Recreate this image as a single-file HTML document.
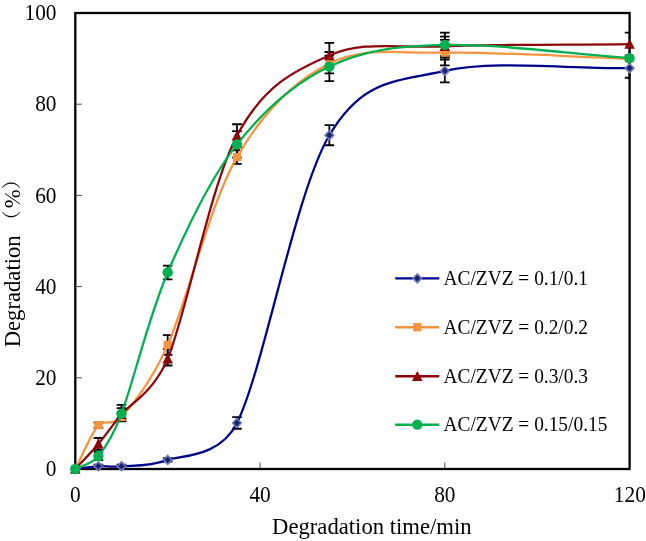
<!DOCTYPE html>
<html><head><meta charset="utf-8"><title>Degradation chart</title>
<style>html,body{margin:0;padding:0;background:#fff}svg{display:block;will-change:transform}</style></head>
<body>
<svg width="646" height="541" viewBox="0 0 646 541">
<defs><clipPath id="plot"><rect x="75.3" y="13.0" width="554.9" height="456.0"/></clipPath></defs>
<rect width="646" height="541" fill="#fff"/>
<g stroke="#4a4a4a" stroke-width="1">
<line x1="76.3" y1="377.8" x2="81.9" y2="377.8"/>
<line x1="76.3" y1="286.6" x2="81.9" y2="286.6"/>
<line x1="76.3" y1="195.4" x2="81.9" y2="195.4"/>
<line x1="76.3" y1="104.2" x2="81.9" y2="104.2"/>
<line x1="260.1" y1="468.0" x2="260.1" y2="462.5"/>
<line x1="444.8" y1="468.0" x2="444.8" y2="462.5"/>
</g>
<rect x="75.3" y="13.0" width="554.3" height="456.0" fill="none" stroke="#000" stroke-width="2.3"/>
<g stroke="#000" stroke-width="1.8" fill="none" clip-path="url(#plot)">
<path d="M98.40,464.67V467.86 M93.60,464.67H103.20 M93.60,467.86H103.20"/>
<path d="M121.49,464.67V467.86 M116.69,464.67H126.29 M116.69,467.86H126.29"/>
<path d="M167.68,458.06V461.70 M162.88,458.06H172.48 M162.88,461.70H172.48"/>
<path d="M236.97,417.15V428.74 M232.17,417.15H241.77 M232.17,428.74H241.77"/>
<path d="M329.35,125.18V145.24 M324.55,125.18H334.15 M324.55,145.24H334.15"/>
<path d="M444.83,59.51V82.31 M440.03,59.51H449.63 M440.03,82.31H449.63"/>
<path d="M629.60,58.60V77.75 M624.80,58.60H634.40 M624.80,77.75H634.40"/>
<path d="M98.40,422.49V427.96 M93.60,422.49H103.20 M93.60,427.96H103.20"/>
<path d="M121.49,412.68V421.35 M116.69,412.68H126.29 M116.69,421.35H126.29"/>
<path d="M167.68,335.16V354.77 M162.88,335.16H172.48 M162.88,354.77H172.48"/>
<path d="M236.97,150.26V163.94 M232.17,150.26H241.77 M232.17,163.94H241.77"/>
<path d="M329.35,55.64V73.42 M324.55,55.64H334.15 M324.55,73.42H334.15"/>
<path d="M444.83,39.90V65.44 M440.03,39.90H449.63 M440.03,65.44H449.63"/>
<path d="M629.60,56.32V60.88 M624.80,56.32H634.40 M624.80,60.88H634.40"/>
<path d="M98.40,437.99V449.85 M93.60,437.99H103.20 M93.60,449.85H103.20"/>
<path d="M121.49,404.93V421.12 M116.69,404.93H126.29 M116.69,421.12H126.29"/>
<path d="M167.68,348.84V365.49 M162.88,348.84H172.48 M162.88,365.49H172.48"/>
<path d="M236.97,124.26V147.06 M232.17,124.26H241.77 M232.17,147.06H241.77"/>
<path d="M329.35,42.87V67.95 M324.55,42.87H334.15 M324.55,67.95H334.15"/>
<path d="M444.83,36.71V55.86 M440.03,36.71H449.63 M440.03,55.86H449.63"/>
<path d="M629.60,32.61V55.41 M624.80,32.61H634.40 M624.80,55.41H634.40"/>
<path d="M98.40,451.90V460.11 M93.60,451.90H103.20 M93.60,460.11H103.20"/>
<path d="M121.49,408.12V419.07 M116.69,408.12H126.29 M116.69,419.07H126.29"/>
<path d="M167.68,265.62V279.30 M162.88,265.62H172.48 M162.88,279.30H172.48"/>
<path d="M236.97,131.10V157.55 M232.17,131.10H241.77 M232.17,157.55H241.77"/>
<path d="M329.35,51.99V81.17 M324.55,51.99H334.15 M324.55,81.17H334.15"/>
<path d="M444.83,32.61V57.23 M440.03,32.61H449.63 M440.03,57.23H449.63"/>
</g>
<path d="M75.30,469.00 C83.00,468.09 90.70,466.72 98.40,466.26 C106.06,465.81 109.99,467.32 121.49,466.26 C133.04,465.20 148.44,467.10 167.68,459.88 C180.18,455.19 219.47,458.09 236.97,422.94 C263.92,368.83 294.71,193.88 329.35,135.21 C362.96,78.30 396.30,81.75 444.83,70.91 C494.87,59.74 568.01,69.09 629.60,68.18" fill="none" stroke="#00008B" stroke-width="2.25" stroke-linecap="round" stroke-linejoin="round"/>
<path d="M75.30,464.60 L79.60,469.00 L75.30,473.40 L71.00,469.00Z" fill="#16256a" stroke="#6f77b8" stroke-width="1.6"/>
<path d="M98.40,461.86 L102.70,466.26 L98.40,470.66 L94.10,466.26Z" fill="#16256a" stroke="#6f77b8" stroke-width="1.6"/>
<path d="M121.49,461.86 L125.79,466.26 L121.49,470.66 L117.19,466.26Z" fill="#16256a" stroke="#6f77b8" stroke-width="1.6"/>
<path d="M167.68,455.48 L171.98,459.88 L167.68,464.28 L163.38,459.88Z" fill="#16256a" stroke="#6f77b8" stroke-width="1.6"/>
<path d="M236.97,418.54 L241.27,422.94 L236.97,427.34 L232.67,422.94Z" fill="#16256a" stroke="#6f77b8" stroke-width="1.6"/>
<path d="M329.35,130.81 L333.65,135.21 L329.35,139.61 L325.05,135.21Z" fill="#16256a" stroke="#6f77b8" stroke-width="1.6"/>
<path d="M444.83,66.51 L449.13,70.91 L444.83,75.31 L440.53,70.91Z" fill="#16256a" stroke="#6f77b8" stroke-width="1.6"/>
<path d="M629.60,63.78 L633.90,68.18 L629.60,72.58 L625.30,68.18Z" fill="#16256a" stroke="#6f77b8" stroke-width="1.6"/>
<path d="M75.30,469.00 C83.00,454.41 90.70,433.89 98.40,425.22 C103.74,419.22 113.48,426.29 121.49,417.02 C131.92,404.94 150.31,384.07 167.68,344.97 C186.93,301.65 210.03,203.99 236.97,157.10 C263.92,110.20 294.71,81.02 329.35,63.62 C364.00,46.21 394.79,53.51 444.83,52.67 C494.87,51.84 568.01,56.62 629.60,58.60" fill="none" stroke="#F7943F" stroke-width="2.25" stroke-linecap="round" stroke-linejoin="round"/>
<rect x="71.15" y="464.85" width="8.30" height="8.30" fill="#F7943F"/>
<rect x="94.25" y="421.07" width="8.30" height="8.30" fill="#F7943F"/>
<rect x="117.34" y="412.87" width="8.30" height="8.30" fill="#F7943F"/>
<rect x="163.53" y="340.82" width="8.30" height="8.30" fill="#F7943F"/>
<rect x="232.82" y="152.95" width="8.30" height="8.30" fill="#F7943F"/>
<rect x="325.20" y="59.47" width="8.30" height="8.30" fill="#F7943F"/>
<rect x="440.68" y="48.52" width="8.30" height="8.30" fill="#F7943F"/>
<rect x="625.45" y="54.45" width="8.30" height="8.30" fill="#F7943F"/>
<path d="M75.30,469.00 C83.00,460.64 90.70,453.04 98.40,443.92 C106.09,434.80 109.94,428.49 121.49,414.28 C129.80,404.06 153.84,392.05 167.68,358.65 C186.93,312.21 210.03,186.20 236.97,135.66 C263.92,85.12 294.71,70.30 329.35,55.41 C364.00,40.51 394.79,48.19 444.83,46.29 C494.87,44.39 568.01,44.77 629.60,44.01" fill="none" stroke="#8C060C" stroke-width="2.25" stroke-linecap="round" stroke-linejoin="round"/>
<path d="M75.30,463.70 L80.60,473.80 L70.00,473.80Z" fill="#8C060C"/>
<path d="M98.40,438.62 L103.70,448.72 L93.10,448.72Z" fill="#8C060C"/>
<path d="M121.49,408.98 L126.79,419.08 L116.19,419.08Z" fill="#8C060C"/>
<path d="M167.68,353.35 L172.98,363.45 L162.38,363.45Z" fill="#8C060C"/>
<path d="M236.97,130.36 L242.27,140.46 L231.67,140.46Z" fill="#8C060C"/>
<path d="M329.35,50.11 L334.65,60.21 L324.05,60.21Z" fill="#8C060C"/>
<path d="M444.83,40.99 L450.13,51.09 L439.53,51.09Z" fill="#8C060C"/>
<path d="M629.60,38.71 L634.90,48.81 L624.30,48.81Z" fill="#8C060C"/>
<path d="M75.30,469.00 C83.00,464.67 90.70,465.24 98.40,456.00 C104.08,449.19 112.96,436.18 121.49,413.60 C133.04,383.01 148.44,317.34 167.68,272.46 C186.93,227.59 210.03,178.64 236.97,144.33 C263.92,110.01 294.71,83.15 329.35,66.58 C364.00,50.01 394.79,46.33 444.83,44.92 C494.87,43.51 568.01,53.74 629.60,58.14" fill="none" stroke="#00B050" stroke-width="2.25" stroke-linecap="round" stroke-linejoin="round"/>
<circle cx="75.30" cy="469.00" r="5.15" fill="#00B050"/>
<circle cx="98.40" cy="456.00" r="5.15" fill="#00B050"/>
<circle cx="121.49" cy="413.60" r="5.15" fill="#00B050"/>
<circle cx="167.68" cy="272.46" r="5.15" fill="#00B050"/>
<circle cx="236.97" cy="144.33" r="5.15" fill="#00B050"/>
<circle cx="329.35" cy="66.58" r="5.15" fill="#00B050"/>
<circle cx="444.83" cy="44.92" r="5.15" fill="#00B050"/>
<circle cx="629.60" cy="58.14" r="5.15" fill="#00B050"/>
<g font-family="'Liberation Serif', serif" font-size="21.33" fill="#000">
<text transform="translate(56.5,476.1) scale(1,1.070)" text-anchor="end">0</text>
<text transform="translate(56.5,384.9) scale(1,1.070)" text-anchor="end">20</text>
<text transform="translate(56.5,293.7) scale(1,1.070)" text-anchor="end">40</text>
<text transform="translate(56.5,202.5) scale(1,1.070)" text-anchor="end">60</text>
<text transform="translate(56.5,111.3) scale(1,1.070)" text-anchor="end">80</text>
<text transform="translate(56.5,20.1) scale(1,1.070)" text-anchor="end">100</text>
<text transform="translate(75.3,501.7) scale(1,1.070)" text-anchor="middle">0</text>
<text transform="translate(260.1,501.7) scale(1,1.070)" text-anchor="middle">40</text>
<text transform="translate(444.8,501.7) scale(1,1.070)" text-anchor="middle">80</text>
<text transform="translate(645.8,501.7) scale(1,1.070)" text-anchor="end">120</text>
</g>
<text x="371.8" y="533.8" text-anchor="middle" font-family="'Liberation Serif', serif" font-size="22.67" fill="#000">Degradation time/min</text>
<g transform="translate(19.6,347.3) rotate(-90)" font-family="'Liberation Serif', 'Noto Serif CJK SC', serif" font-size="22.67" fill="#000"><text x="0" y="0">Degradation</text><text x="117.3" y="-0.6" font-size="19.5">（</text><text x="139" y="0">%</text><text x="158.0" y="-0.6" font-size="19.5">）</text></g>
<line x1="395.2" y1="278.4" x2="439.3" y2="278.4" stroke="#00008B" stroke-width="2.4"/>
<path d="M417.30,274.00 L421.60,278.40 L417.30,282.80 L413.00,278.40Z" fill="#16256a" stroke="#6f77b8" stroke-width="1.6"/>
<text transform="translate(443.5,285.0) scale(1,1.07)" font-family="'Liberation Serif', serif" font-size="19.4" fill="#000">AC/ZVZ = 0.1/0.1</text>
<line x1="395.2" y1="327.2" x2="439.3" y2="327.2" stroke="#F7943F" stroke-width="2.4"/>
<rect x="413.15" y="323.05" width="8.30" height="8.30" fill="#F7943F"/>
<text transform="translate(443.5,333.8) scale(1,1.07)" font-family="'Liberation Serif', serif" font-size="19.4" fill="#000">AC/ZVZ = 0.2/0.2</text>
<line x1="395.2" y1="376.2" x2="439.3" y2="376.2" stroke="#8C060C" stroke-width="2.4"/>
<path d="M417.30,370.90 L422.60,381.00 L412.00,381.00Z" fill="#8C060C"/>
<text transform="translate(443.5,382.8) scale(1,1.07)" font-family="'Liberation Serif', serif" font-size="19.4" fill="#000">AC/ZVZ = 0.3/0.3</text>
<line x1="395.2" y1="424.7" x2="439.3" y2="424.7" stroke="#00B050" stroke-width="2.4"/>
<circle cx="417.30" cy="424.70" r="5.15" fill="#00B050"/>
<text transform="translate(443.5,431.3) scale(1,1.07)" font-family="'Liberation Serif', serif" font-size="19.4" fill="#000">AC/ZVZ = 0.15/0.15</text>
</svg>
</body></html>
